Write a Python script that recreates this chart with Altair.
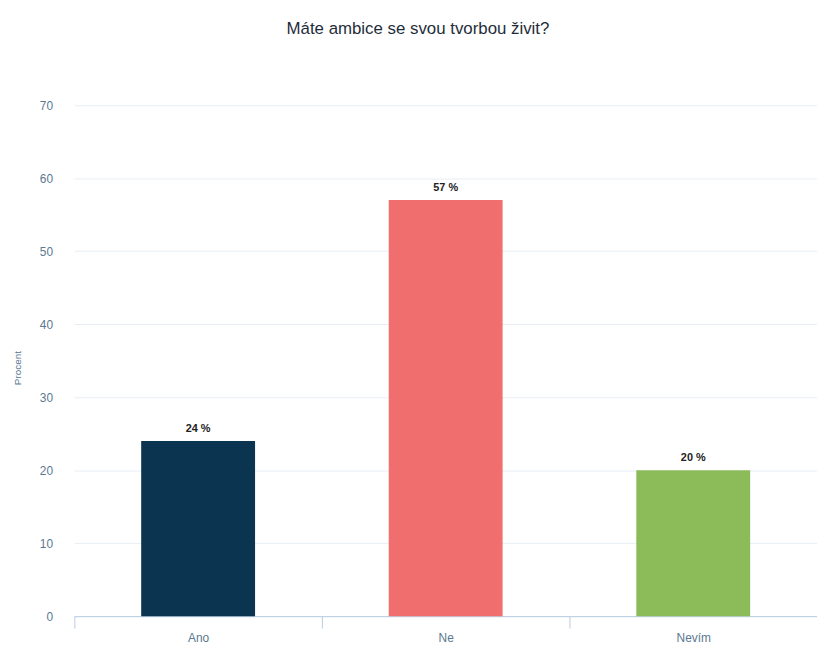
import altair as alt
import pandas as pd

categories = ["Ano", "Ne", "Nevím"]
values = [24, 57, 20]
labels = ["24 %", "57 %", "20 %"]
colors = ["#0b3450", "#f06e6e", "#8cbb5a"]

df = pd.DataFrame({"cat": categories, "val": values, "lab": labels})

W, H = 750, 516
axis_color = "#5a7891"

x = alt.X("cat:N", sort=categories, title=None,
          scale=alt.Scale(paddingInner=0.54, paddingOuter=0.27),
          axis=alt.Axis(labelAngle=0, tickOffset=-W / 6, labelOffset=W / 6,
                        labelColor=axis_color, labelFontSize=12, labelPadding=5,
                        labelFont="Liberation Sans",
                        tickColor="#b8cce0", tickSize=12, ticks=True, domainColor="#b8cce0",
                        grid=False))
y = alt.Y("val:Q", title="Procent",
          scale=alt.Scale(domain=[0, 70], nice=False),
          axis=alt.Axis(values=[0, 10, 20, 30, 40, 50, 60, 70], domain=False, ticks=False,
                        labelColor=axis_color, labelFontSize=12, labelPadding=22,
                        labelFont="Liberation Sans",
                        gridColor="#e8eef4", titleColor=axis_color, titleFontSize=10,
                        titleFontWeight="normal", titleFont="Liberation Sans",
                        titleX=-52, titleY=265))

bars = alt.Chart(df).mark_bar().encode(
    x=x, y=y,
    color=alt.Color("cat:N", scale=alt.Scale(domain=categories, range=colors), legend=None),
)
text = alt.Chart(df).mark_text(dy=-7, baseline="bottom", fontWeight="bold", fontSize=11,
                               color="#222222", font="Liberation Sans").encode(
    x=alt.X("cat:N", sort=categories), y="val:Q", text="lab:N")

chart = alt.layer(bars, text).properties(
    width=W, height=H,
    title=alt.TitleParams("Máte ambice se svou tvorbou živit?", fontSize=17, fontWeight="normal",
                          color="#1f2d3a", font="Liberation Sans", offset=62, dx=-28),
    autosize=alt.AutoSizeParams(type="none"),
    padding={"left": 67, "top": 95, "right": 0, "bottom": 30},
).configure_view(stroke=None)

chart.save("out.html", embed_options={"renderer": "svg", "actions": False})
